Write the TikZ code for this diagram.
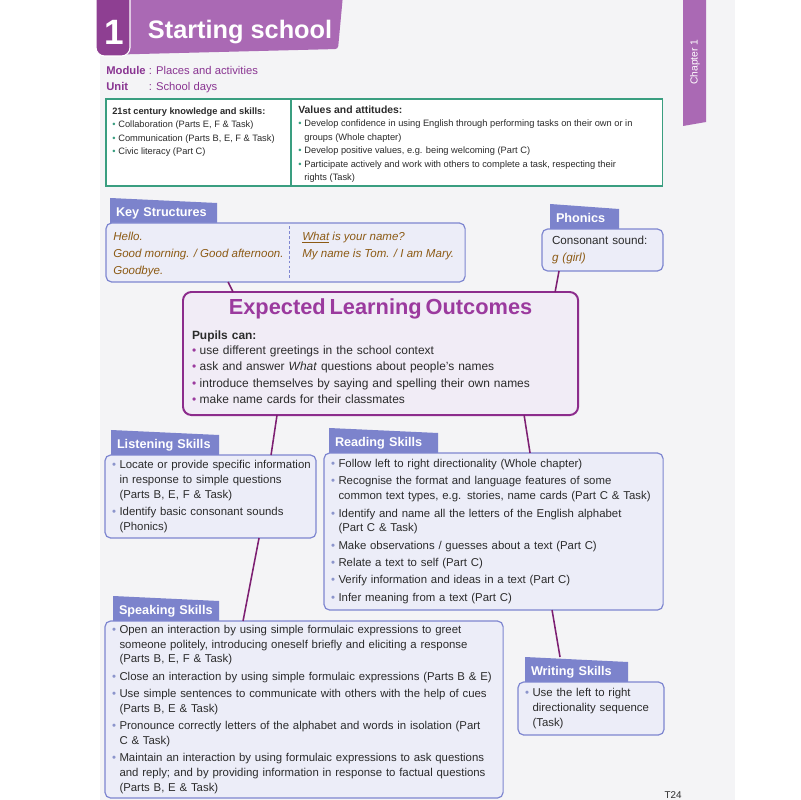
\documentclass[tikz,border=0pt]{standalone}
\usepackage{fontspec}
\setmainfont{Liberation Sans}
\usetikzlibrary{backgrounds}
\definecolor{pagegray}{HTML}{F4F4F6}
\definecolor{bannerpurple}{HTML}{AA69B4}
\definecolor{numpurple}{HTML}{8E3F92}
\definecolor{modpurple}{HTML}{8A3592}
\definecolor{attrgreen}{HTML}{3A9E80}
\definecolor{tabblue}{HTML}{7C83CC}
\definecolor{boxblue}{HTML}{7E86D0}
\definecolor{boxfill}{HTML}{ECEDF8}
\definecolor{elofill}{HTML}{F1ECF6}
\definecolor{eloborder}{HTML}{8C2C8C}
\definecolor{elotitle}{HTML}{9B3A9E}
\definecolor{linkpurple}{HTML}{7D1F72}
\definecolor{keybrown}{HTML}{8C5A14}
\definecolor{bulletblue}{HTML}{8C95CC}
\definecolor{textgray}{HTML}{2B2B2B}

\newcommand{\bul}{\textcolor{bulletblue}{\textbullet}}
\newcommand{\elobul}{\textcolor{elotitle}{\textbullet}}
\newcommand{\attrbul}{\textcolor{attrgreen}{\textbullet}}
\newcommand{\skillfont}{\fontsize{8.1}{10.4}\selectfont}
\newcommand{\attrfont}{\fontsize{6.6}{9.5}\selectfont}
\newenvironment{skilllist}{\begin{tabular}{@{}l@{\hspace{2.5pt}}l@{}}}{\end{tabular}}

% label tab with a slanted top edge
\newcommand{\tabshape}[1]{%
  \fill[tabblue] (#1.south west) -- (#1.north west)
    -- ([yshift=-0.125cm]#1.north east) -- (#1.south east) -- cycle;}

\begin{document}
\begin{tikzpicture}[x=0.025cm, y=-0.025cm,
    skillbox/.style={draw=boxblue, line width=0.85pt, fill=boxfill,
        rounded corners=4pt, anchor=north west, outer sep=0pt,
        inner xsep=0.175cm, inner ysep=0pt, align=left, text=textgray,
        font=\skillfont},
    skilltab/.style={anchor=south west, outer sep=0pt, inner xsep=0.15cm,
        inner ysep=0pt, minimum height=0.625cm, text height=8.5pt, text depth=0pt,
        align=left, text=white, font=\fontsize{9}{10}\selectfont\bfseries},
    keytext/.style={inner sep=0pt, align=left, text=keybrown,
        font=\fontsize{8.2}{12}\selectfont\itshape},
    link/.style={draw=linkpurple, line width=1.1pt}
]
\useasboundingbox (0,0) rectangle (800,800);
\begin{scope}[on background layer]
    \fill[white] (0,0) rectangle (800,800);
    \fill[pagegray] (100,0) rectangle (735,800);
\end{scope}

% =================== Heading ===================
\fill[bannerpurple, rounded corners=2pt] (100,-5) -- (343,-5) -- (338,49) -- (100,55) -- cycle;
\draw[fill=numpurple, draw=white, line width=0.8pt, rounded corners=6pt] (96,-10) rectangle (130,56);
\node[text=white, font=\fontsize{25}{25}\selectfont\bfseries] (chapnum) at (114,32) {1};
\node[anchor=west, text=white, font=\fontsize{18}{20}\selectfont\bfseries] (title) at (143,32) {Starting school};

\fill[bannerpurple] (683,0) -- (706,0) -- (706,122) -- (683,126) -- cycle;
\node[rotate=90, text=white, font=\fontsize{7.3}{8}\selectfont] (chapter) at (695,62) {Chapter 1};

\node[anchor=north west, inner sep=0pt, text=modpurple, font=\fontsize{8}{11.3}\selectfont] (module) at (106,63)
    {\begin{tabular}{@{}l@{\ }l@{}}
        \textbf{Module} & : Places and activities\\
        \textbf{Unit} & : School days
    \end{tabular}};

% =================== Attributes table ===================
\node[draw=attrgreen, line width=0.9pt, fill=white, anchor=north west, outer sep=0pt,
    minimum width=13.9cm, minimum height=2.175cm] (attr) at (106,99) {};
\draw[attrgreen, line width=0.9pt] ([xshift=4.625cm]attr.north west) -- ([xshift=4.625cm]attr.south west);
\node[anchor=north west, inner sep=0pt, text=textgray, font=\attrfont] (attrleft)
    at ([xshift=0.15cm, yshift=-0.15cm]attr.north west)
    {\begin{tabular}{@{}l@{\hspace{2pt}}l@{}}
        \multicolumn{2}{@{}l@{}}{\textbf{21st century knowledge and skills:}}\\
        \attrbul & Collaboration (Parts E, F \& Task)\\
        \attrbul & Communication (Parts B, E, F \& Task)\\
        \attrbul & Civic literacy (Part C)
    \end{tabular}};
\node[anchor=north west, inner sep=0pt, text=textgray, font=\attrfont] (attrright)
    at ([xshift=4.8cm, yshift=-0.125cm]attr.north west)
    {\begin{tabular}{@{}l@{\hspace{2pt}}l@{}}
        \multicolumn{2}{@{}l@{}}{\fontsize{7.4}{9.5}\selectfont\bfseries Values and attitudes:}\\
        \attrbul & Develop confidence in using English through performing tasks on their own or in\\
        & groups (Whole chapter)\\
        \attrbul & Develop positive values, e.g. being welcoming (Part C)\\
        \attrbul & Participate actively and work with others to complete a task, respecting their\\
        & rights (Task)
    \end{tabular}};

% =================== Key Structures ===================
\node[skillbox, minimum width=8.975cm, minimum height=1.475cm] (keybox) at (106,223) {};
\node[skilltab, text width=2.375cm, minimum width=2.675cm] (keytab)
    at ([xshift=0.1cm]keybox.north west) {Key Structures};
\draw[boxblue, line width=0.7pt, dash pattern=on 2pt off 1.5pt]
    ([xshift=4.575cm, yshift=-0.08cm]keybox.north west) -- ([xshift=4.575cm, yshift=0.08cm]keybox.south west);
\node[keytext, anchor=west] (keyleft) at ([xshift=0.175cm, yshift=-0.05cm]keybox.west)
    {Hello.\\Good morning. / Good afternoon.\\Goodbye.};
\node[keytext, anchor=north west] (keyright) at ([xshift=4.725cm]keyleft.north west)
    {\underline{What} is your name?\\My name is Tom. / I am Mary.};

% =================== Phonics ===================
\node[skillbox, inner xsep=0.25cm, text width=2.525cm, minimum width=3.025cm, minimum height=1.05cm,
    font=\fontsize{8.3}{12.7}\selectfont] (phonbox) at (542,229)
    {Consonant sound:\\\textcolor{keybrown}{\itshape g (girl)}};
\node[skilltab, text width=1.425cm, minimum width=1.725cm] (phontab)
    at ([xshift=0.2cm]phonbox.north west) {Phonics};

% =================== Expected Learning Outcomes ===================
\node[skillbox, draw=eloborder, fill=elofill, line width=1.4pt, rounded corners=6pt,
    inner xsep=0.225cm, text width=9.425cm, minimum width=9.875cm, minimum height=3.075cm,
    font=\fontsize{8.5}{11.7}\selectfont] (elo) at (183,292)
    {{\centering\fontsize{15.5}{17}\selectfont\bfseries\color{elotitle}Expected Learning Outcomes\par}
     \vspace{6pt}
     {\bfseries Pupils can:\par}
     \begin{tabular}{@{}l@{\hspace{2.5pt}}l@{}}
        \elobul & use different greetings in the school context\\
        \elobul & ask and answer \textit{What} questions about people’s names\\
        \elobul & introduce themselves by saying and spelling their own names\\
        \elobul & make name cards for their classmates
     \end{tabular}};

% =================== Listening Skills ===================
\node[skillbox, text width=4.925cm, minimum width=5.275cm, minimum height=2.075cm] (listen) at (105,455)
    {\begin{skilllist}
        \bul & Locate or provide specific information\\
        & in response to simple questions\\
        & (Parts B, E, F \& Task)\\[2pt]
        \bul & Identify basic consonant sounds\\
        & (Phonics)
    \end{skilllist}};
\node[skilltab, text width=2.4cm, minimum width=2.7cm] (listentab)
    at ([xshift=0.15cm]listen.north west) {Listening Skills};

% =================== Reading Skills ===================
\node[skillbox, text width=8.125cm, minimum width=8.475cm, minimum height=3.925cm] (read) at (324,453)
    {\begin{skilllist}
        \bul & Follow left to right directionality (Whole chapter)\\[2pt]
        \bul & Recognise the format and language features of some\\
        & common text types, e.g. stories, name cards (Part C \& Task)\\[2pt]
        \bul & Identify and name all the letters of the English alphabet\\
        & (Part C \& Task)\\[2pt]
        \bul & Make observations / guesses about a text (Part C)\\[2pt]
        \bul & Relate a text to self (Part C)\\[2pt]
        \bul & Verify information and ideas in a text (Part C)\\[2pt]
        \bul & Infer meaning from a text (Part C)
    \end{skilllist}};
\node[skilltab, text width=2.425cm, minimum width=2.725cm] (readtab)
    at ([xshift=0.125cm]read.north west) {Reading Skills};

% =================== Speaking Skills ===================
\node[skillbox, text width=9.6cm, minimum width=9.95cm, minimum height=4.425cm] (speak) at (105,621)
    {\begin{skilllist}
        \bul & Open an interaction by using simple formulaic expressions to greet\\
        & someone politely, introducing oneself briefly and eliciting a response\\
        & (Parts B, E, F \& Task)\\[2pt]
        \bul & Close an interaction by using simple formulaic expressions (Parts B \& E)\\[2pt]
        \bul & Use simple sentences to communicate with others with the help of cues\\
        & (Parts B, E \& Task)\\[2pt]
        \bul & Pronounce correctly letters of the alphabet and words in isolation (Part\\
        & C \& Task)\\[2pt]
        \bul & Maintain an interaction by using formulaic expressions to ask questions\\
        & and reply; and by providing information in response to factual questions\\
        & (Parts B, E \& Task)
    \end{skilllist}};
\node[skilltab, text width=2.35cm, minimum width=2.65cm] (speaktab)
    at ([xshift=0.2cm]speak.north west) {Speaking Skills};

% =================== Writing Skills ===================
\node[skillbox, text width=3.3cm, minimum width=3.65cm, minimum height=1.325cm] (write) at (518,682)
    {\begin{skilllist}
        \bul & Use the left to right\\
        & directionality sequence\\
        & (Task)
    \end{skilllist}};
\node[skilltab, text width=2.275cm, minimum width=2.575cm] (writetab)
    at ([xshift=0.175cm]write.north west) {Writing Skills};

\begin{scope}[on background layer]
    \tabshape{keytab}
    \tabshape{phontab}
    \tabshape{listentab}
    \tabshape{readtab}
    \tabshape{speaktab}
    \tabshape{writetab}
\end{scope}

% =================== Connectors ===================
\draw[link] ([xshift=3.05cm]keybox.south west) -- ([xshift=1.25cm]elo.north west);
\draw[link] ([xshift=0.425cm]phonbox.south west) -- ([xshift=9.3cm]elo.north west);
\draw[link] ([xshift=2.35cm]elo.south west) -- ([xshift=4.15cm]listen.north west);
\draw[link] ([xshift=8.525cm]elo.south west) -- ([xshift=5.15cm]read.north west);
\draw[link] ([xshift=3.85cm]listen.south west) -- ([xshift=3.45cm]speak.north west);
\draw[link] ([xshift=5.7cm]read.south west) -- ([xshift=0.875cm]writetab.north west);

\node[text=textgray, font=\fontsize{7}{8}\selectfont] (pageno) at (673,795) {T24};
\end{tikzpicture}
\end{document}
